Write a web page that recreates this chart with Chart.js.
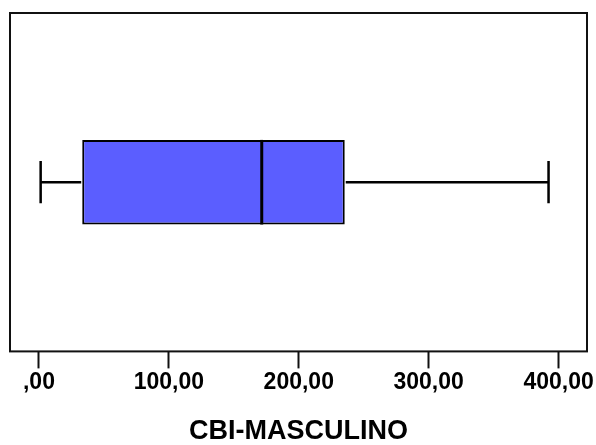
<!DOCTYPE html>
<html>
<head>
<meta charset="utf-8">
<script src="https://cdn.jsdelivr.net/npm/chart.js@4"></script>
<style>
  html, body { margin: 0; padding: 0; background: #fff; }
  #wrap { width: 596px; height: 445px; }
</style>
</head>
<body>
<div id="wrap"><canvas id="grafico" width="596" height="445"></canvas></div>
<script>
// datos del diagrama de caja
const categorias = ['CBI-MASCULINO'];
const minimo = [1.3];
const q1 = [33.3];
const mediana = [171.5];
const q3 = [235.4];
const maximo = [392.3];
const marcas = [0, 100, 200, 300, 400];

function etiqueta(v) {
    return v === 0 ? ',00' : v + ',00';
}

// bigotes, mediana y marco usando las escalas de Chart.js
const cajaPlugin = {
    id: 'caja',
    afterDatasetsDraw(chart) {
        const ctx = chart.ctx;
        const x = chart.scales.x;
        const meta = chart.getDatasetMeta(0);
        ctx.save();
        ctx.strokeStyle = '#000';
        meta.data.forEach((bar, i) => {
            const yc = bar.y;
            const h = bar.height;
            const xMin = x.getPixelForValue(minimo[i]);
            const xQ1 = x.getPixelForValue(q1[i]);
            const xMed = x.getPixelForValue(mediana[i]);
            const xQ3 = x.getPixelForValue(q3[i]);
            const xMax = x.getPixelForValue(maximo[i]);
            ctx.lineWidth = 2.5;
            ctx.beginPath();
            ctx.moveTo(xMin, yc); ctx.lineTo(xQ1 - 1, yc);
            ctx.moveTo(xQ3 + 1, yc); ctx.lineTo(xMax, yc);
            ctx.moveTo(xMin, yc - h / 4); ctx.lineTo(xMin, yc + h / 4);
            ctx.moveTo(xMax, yc - h / 4); ctx.lineTo(xMax, yc + h / 4);
            ctx.stroke();
            ctx.lineWidth = 3;
            ctx.beginPath();
            ctx.moveTo(xMed, yc - h / 2); ctx.lineTo(xMed, yc + h / 2);
            ctx.stroke();
        });
        const a = chart.chartArea;
        ctx.lineWidth = 2;
        ctx.strokeStyle = '#111';
        ctx.strokeRect(a.left, a.top, a.right - a.left, a.bottom - a.top);
        ctx.restore();
    }
};

new Chart(document.getElementById('grafico'), {
    type: 'bar',
    data: {
        labels: categorias,
        datasets: [{
            data: q1.map((v, i) => [v, q3[i]]),
            backgroundColor: '#5b5eff',
            borderColor: '#000',
            borderWidth: 2,
            borderSkipped: false,
            barPercentage: 0.25,
            categoryPercentage: 1
        }]
    },
    options: {
        indexAxis: 'y',
        responsive: false,
        animation: false,
        layout: { padding: { left: 10, right: 9, top: 13, bottom: 0 } },
        plugins: {
            legend: { display: false },
            tooltip: { enabled: false }
        },
        scales: {
            y: { display: false },
            x: {
                type: 'linear',
                min: -22.3,
                max: 421.9,
                afterBuildTicks: scale => {
                    scale.ticks = marcas.map(v => ({ value: v }));
                },
                border: { display: false },
                grid: {
                    drawOnChartArea: false,
                    drawTicks: true,
                    tickLength: 17,
                    tickWidth: 2,
                    tickColor: '#111'
                },
                ticks: {
                    autoSkip: false,
                    maxRotation: 0,
                    padding: 0,
                    color: '#000',
                    font: { family: '"Liberation Sans", Arial, sans-serif', size: 23, weight: 'bold' },
                    callback: v => etiqueta(v)
                },
                title: {
                    display: true,
                    text: 'CBI-MASCULINO',
                    color: '#000',
                    font: { family: '"Liberation Sans", Arial, sans-serif', size: 27, weight: 'bold', lineHeight: 1 },
                    padding: { top: 22, bottom: 0 }
                }
            }
        }
    },
    plugins: [cajaPlugin]
});
</script>
</body>
</html>
